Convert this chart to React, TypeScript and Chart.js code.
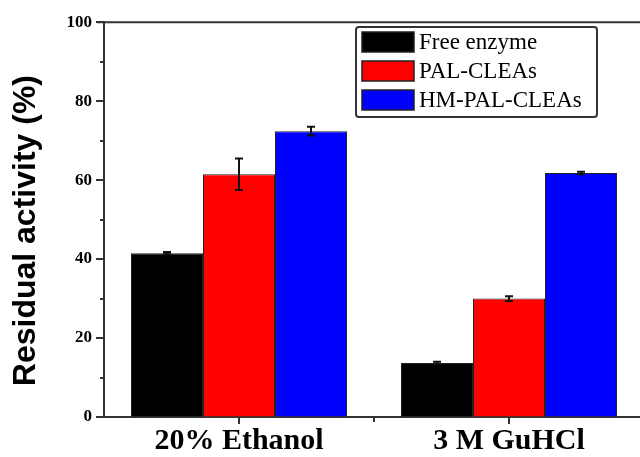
import React, { useEffect, useRef } from "react";
import { Chart, registerables } from "chart.js";

Chart.register(...registerables);

const categories = ["20% Ethanol", "3 M GuHCl"];
const seriesNames = ["Free enzyme", "PAL-CLEAs", "HM-PAL-CLEAs"];
const freeEnzyme = [41.5, 13.7];
const palCleas = [61.5, 30.0];
const hmPalCleas = [72.4, 61.8];
const freeEnzymeErr = [0.3, 0.3];
const palCleasErr = [4.0, 0.6];
const hmPalCleasErr = [1.1, 0.3];
const seriesColors = ["#000000", "#ff0000", "#0000ff"];
const yTickValues = [0, 20, 40, 60, 80, 100];
const yMinorTickValues = [10, 30, 50, 70, 90];
const yTitle = "Residual activity (%)";

const errors = [freeEnzymeErr, palCleasErr, hmPalCleasErr];

const customPlugin = {
  id: "customDecor",
  afterDatasetsDraw(chart: any) {
    const ctx = chart.ctx;
    const y = chart.scales.y;
    ctx.save();
    ctx.strokeStyle = "#111";
    ctx.lineWidth = 2;
    chart.data.datasets.forEach((ds: any, i: number) => {
      const meta = chart.getDatasetMeta(i);
      meta.data.forEach((el: any, j: number) => {
        const v = ds.data[j];
        const e = errors[i][j];
        const yt = y.getPixelForValue(v + e);
        const yb = y.getPixelForValue(v - e);
        const x = el.x;
        ctx.beginPath();
        ctx.moveTo(x, yt);
        ctx.lineTo(x, yb);
        ctx.moveTo(x - 4, yt);
        ctx.lineTo(x + 4, yt);
        ctx.moveTo(x - 4, yb);
        ctx.lineTo(x + 4, yb);
        ctx.stroke();
      });
    });
    ctx.restore();
  },
  afterDraw(chart: any) {
    const ctx = chart.ctx;
    const ca = chart.chartArea;
    const y = chart.scales.y;
    const x = chart.scales.x;
    ctx.save();
    ctx.strokeStyle = "#333";
    ctx.lineWidth = 2;
    // top frame line
    ctx.beginPath();
    ctx.moveTo(ca.left - 7, ca.top);
    ctx.lineTo(chart.width, ca.top);
    ctx.stroke();
    // y ticks
    yTickValues.forEach((v) => {
      const py = Math.round(y.getPixelForValue(v));
      ctx.beginPath();
      ctx.moveTo(ca.left - 8, py);
      ctx.lineTo(ca.left, py);
      ctx.stroke();
    });
    yMinorTickValues.forEach((v) => {
      const py = Math.round(y.getPixelForValue(v));
      ctx.beginPath();
      ctx.moveTo(ca.left - 4, py);
      ctx.lineTo(ca.left, py);
      ctx.stroke();
    });
    // x ticks
    const n = categories.length;
    for (let i = 0; i < n; i++) {
      const px = Math.round(x.getPixelForValue(i));
      ctx.beginPath();
      ctx.moveTo(px, ca.bottom);
      ctx.lineTo(px, ca.bottom + 7);
      ctx.stroke();
      if (i < n - 1) {
        const mx = Math.round(x.getPixelForValue(i + 0.5));
        ctx.beginPath();
        ctx.moveTo(mx, ca.bottom);
        ctx.lineTo(mx, ca.bottom + 5);
        ctx.stroke();
      }
    }
    // y title
    ctx.save();
    ctx.translate(26, (ca.top + ca.bottom) / 2 + 11);
    ctx.rotate(-Math.PI / 2);
    ctx.fillStyle = "#000";
    ctx.font = "bold 32px 'Liberation Sans', Arial, sans-serif";
    ctx.textAlign = "center";
    ctx.textBaseline = "middle";
    ctx.fillText(yTitle, 0, 0);
    ctx.restore();
    // legend
    const lx = 356;
    const ly = 27;
    const lw = 241;
    const lh = 90;
    ctx.strokeStyle = "#333";
    ctx.lineWidth = 2;
    ctx.fillStyle = "#fff";
    ctx.beginPath();
    ctx.roundRect(lx, ly, lw, lh, 3);
    ctx.fill();
    ctx.stroke();
    ctx.font = "23px 'Liberation Serif', 'Times New Roman', serif";
    ctx.textBaseline = "middle";
    ctx.textAlign = "left";
    const rowTops = [32, 61, 90];
    seriesNames.forEach((name, i) => {
      const ry = rowTops[i];
      ctx.fillStyle = seriesColors[i];
      ctx.fillRect(lx + 6, ry, 52, 20);
      ctx.strokeStyle = "#222";
      ctx.lineWidth = 1.5;
      ctx.strokeRect(lx + 6, ry, 52, 20);
      ctx.fillStyle = "#000";
      ctx.fillText(name, lx + 63, ry + 11);
    });
    ctx.restore();
  },
};

export default function App() {
  const ref = useRef<HTMLCanvasElement>(null);
  useEffect(() => {
    if (!ref.current) return;
    const chart = new Chart(ref.current, {
      type: "bar",
      data: {
        labels: categories,
        datasets: [
          { label: seriesNames[0], data: freeEnzyme, backgroundColor: seriesColors[0] },
          { label: seriesNames[1], data: palCleas, backgroundColor: seriesColors[1] },
          { label: seriesNames[2], data: hmPalCleas, backgroundColor: seriesColors[2] },
        ].map((d) => ({
          ...d,
          borderColor: "#222",
          borderWidth: 1,
          categoryPercentage: 0.8,
          barPercentage: 1.0,
        })),
      },
      options: {
        responsive: false,
        animation: false,
        layout: { padding: { left: 0, right: 2, top: 19, bottom: 0 } },
        plugins: {
          legend: { display: false },
          tooltip: { enabled: false },
          title: { display: false },
        },
        scales: {
          x: {
            grid: { display: true, drawOnChartArea: false, drawTicks: false },
            border: { display: true, color: "#333", width: 2 },
            ticks: {
              color: "#000",
              padding: 6,
              font: { family: "'Liberation Serif', 'Times New Roman', serif", size: 30, weight: "bold" },
            },
            afterFit: (s: any) => {
              s.height = 40;
            },
          },
          y: {
            min: 0,
            max: 100,
            grid: { display: true, drawOnChartArea: false, drawTicks: false },
            border: { display: true, color: "#333", width: 2 },
            ticks: {
              stepSize: 20,
              color: "#000",
              padding: 12,
              font: { family: "'Liberation Serif', 'Times New Roman', serif", size: 17, weight: "bold" },
            },
            afterFit: (s: any) => {
              s.width = 104;
            },
          },
        },
      },
      plugins: [customPlugin],
    });
    return () => chart.destroy();
  }, []);
  return (
    <div style={{ position: "fixed", left: 0, top: 0, width: 640, height: 457, overflow: "hidden", background: "#fff" }}>
      <canvas ref={ref} width={646} height={457} style={{ display: "block", width: 646, height: 457 }} />
    </div>
  );
}
